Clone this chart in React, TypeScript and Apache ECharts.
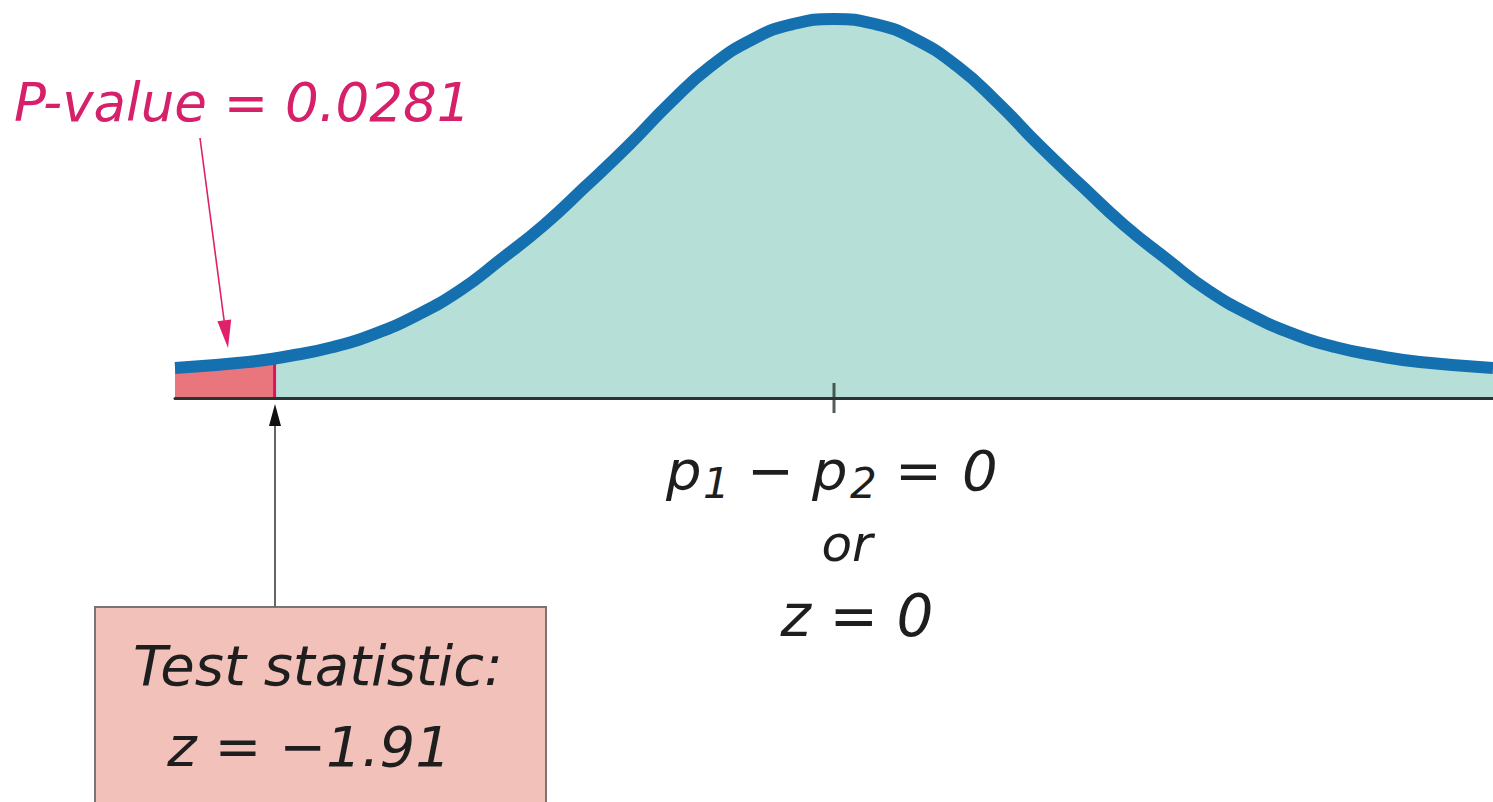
import React, { useEffect, useRef } from "react";
import * as echarts from "echarts";

// Curve: z positions and heights (axis units, 0.4 = peak)
const zValues = [
  -2.25, -2.0, -1.86, -1.71, -1.57, -1.43, -1.28, -1.14, -0.99, -0.85, -0.7, -0.56, -0.42, -0.27, -0.14,
  0, 0.14, 0.27, 0.42, 0.56, 0.7, 0.85, 0.99, 1.14, 1.28, 1.43, 1.57, 1.71, 1.86, 2.0, 2.25,
];
const density = [
  0.0317, 0.038, 0.0443, 0.0538, 0.0675, 0.0865, 0.1129, 0.1456, 0.1826, 0.2227, 0.267, 0.3113, 0.3504, 0.3799, 0.3947,
  0.4, 0.3947, 0.3799, 0.3504, 0.3113, 0.267, 0.2227, 0.1826, 0.1456, 0.1129, 0.0865, 0.0675, 0.0538, 0.0443, 0.038, 0.0317,
];
const testStat = -1.91;
const densityAtStat = 0.0422;
const tailZ = [-2.25, -2.0, -1.91];
const tailDensity = [0.0317, 0.038, 0.0422];
const centerTick = [[0, 0]];

const FONT = "'DejaVu Sans', sans-serif";

export default function App() {
  const ref = useRef<HTMLDivElement>(null);
  useEffect(() => {
    if (!ref.current) return;
    const chart = echarts.init(ref.current, null, { renderer: "svg" });
    const curve = zValues.map((z, i) => [z, density[i]]);
    const tail = tailZ.map((z, i) => [z, tailDensity[i]]);
    const txt = (text: string, x: number, y: number, size: number, fill: string, align = "center") => ({
      type: "text",
      z: 100,
      style: {
        text,
        x,
        y,
        fill,
        fontSize: size,
        fontFamily: FONT,
        fontStyle: "italic",
        fontWeight: 400,
        textAlign: align,
        textVerticalAlign: "middle",
      },
    });
    const INK = "#1e1e1e";
    chart.setOption({
      animation: false,
      backgroundColor: "#ffffff",
      grid: { left: 175, right: 0, top: 19, bottom: 404 },
      xAxis: {
        type: "value",
        min: -2.25,
        max: 2.25,
        z: 10,
        axisLine: { show: true, onZero: true, lineStyle: { color: "#2b3430", width: 3 } },
        axisTick: { show: false },
        axisLabel: { show: false },
        splitLine: { show: false },
      },
      yAxis: {
        type: "value",
        min: 0,
        max: 0.4,
        show: false,
        splitLine: { show: false },
      },
      series: [
        {
          type: "line",
          data: curve,
          smooth: 0.5,
          symbol: "none",
          clip: false,
          lineStyle: { width: 0 },
          areaStyle: { color: "#b6e0d7", opacity: 1 },
          z: 1,
        },
        {
          type: "line",
          data: tail,
          smooth: 0.5,
          symbol: "none",
          lineStyle: { width: 0 },
          areaStyle: { color: "#e8767c", opacity: 1 },
          z: 2,
        },
        {
          type: "line",
          data: [
            [testStat, 0],
            [testStat, densityAtStat],
          ],
          symbol: "none",
          lineStyle: { color: "#e0125e", width: 3 },
          z: 3,
        },
        {
          type: "line",
          data: curve,
          smooth: 0.5,
          symbol: "none",
          clip: false,
          lineStyle: { color: "#1570b0", width: 12, cap: "butt" },
          z: 4,
        },
        {
          type: "scatter",
          data: centerTick,
          symbol: "rect",
          symbolSize: [3, 30],
          itemStyle: { color: "#2b3430" },
          z: 11,
          silent: true,
        },
      ],
      graphic: [
        txt("P-value = 0.0281", 14, 102, 53, "#d6206a", "left"),
        { type: "line", z: 100, shape: { x1: 200, y1: 138, x2: 224.3, y2: 322 }, style: { stroke: "#e0206a", lineWidth: 1.6 } },
        {
          type: "polygon",
          z: 100,
          shape: { points: [[228, 348], [231.2, 319.4], [217.4, 321.2]] },
          style: { fill: "#e0206a" },
        },
        { type: "line", z: 100, shape: { x1: 275, y1: 607, x2: 275, y2: 424 }, style: { stroke: "#666666", lineWidth: 2 } },
        {
          type: "polygon",
          z: 100,
          shape: { points: [[275, 404], [281, 426], [269, 426]] },
          style: { fill: "#111111" },
        },
        {
          type: "rect",
          z: 99,
          shape: { x: 95, y: 607, width: 451, height: 200 },
          style: { fill: "#f2c1b9", stroke: "#7a7472", lineWidth: 2 },
        },
        txt("Test statistic:", 318, 665, 56, INK),
        txt("z = \u22121.91", 309, 746, 56, INK),
        txt("p", 666, 470, 56, INK, "left"),
        txt("1", 703, 483, 42, INK, "left"),
        txt("\u2212", 747, 470, 56, INK, "left"),
        txt("p", 812, 470, 56, INK, "left"),
        txt("2", 850, 483, 42, INK, "left"),
        txt("=", 895, 470, 56, INK, "left"),
        txt("0", 962, 470, 56, INK, "left"),
        txt("or", 847, 544, 50, INK),
        txt("z = 0", 857, 616, 58, INK),
      ],
    });
    return () => chart.dispose();
  }, []);
  return <div ref={ref} style={{ position: "fixed", left: 0, top: 0, width: 1493, height: 802 }} />;
}
